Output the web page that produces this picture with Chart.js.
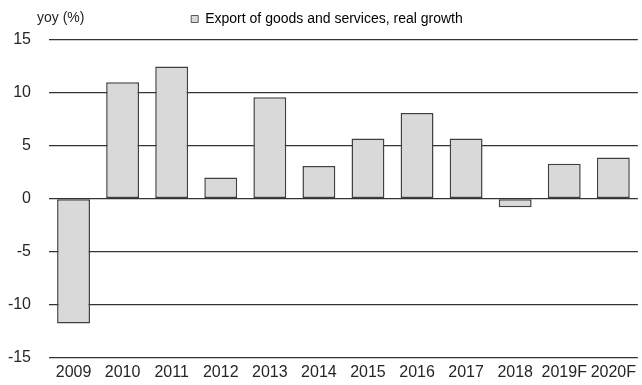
<!DOCTYPE html>
<html>
<head>
<meta charset="utf-8">
<script src="https://cdn.jsdelivr.net/npm/chart.js@4/dist/chart.umd.min.js"></script>
<style>
  html, body { margin: 0; padding: 0; background: #fff; overflow: hidden; }
  canvas { display: block; }
</style>
</head>
<body>
<canvas id="exportChart" width="642" height="385"></canvas>
<script>
// data
const years = ['2009', '2010', '2011', '2012', '2013', '2014', '2015', '2016', '2017', '2018', '2019F', '2020F'];
const exportGrowth = [-11.8, 11.0, 12.5, 2.0, 9.6, 3.1, 5.7, 8.1, 5.7, -0.8, 3.3, 3.9];
const yTicks = [-15, -10, -5, 0, 5, 10, 15];

Chart.defaults.font.family = '"Liberation Sans", Arial, sans-serif';
Chart.defaults.font.size = 13;
Chart.defaults.color = '#262626';

// "yoy (%)" label in the top-left corner + small legend tweaks
const unitLabel = {
  id: 'unitLabel',
  afterInit(chart) {
    const lg = chart.legend;
    const fit = lg.fit;
    lg.fit = function () {
      fit.call(this);
      this.height += 4; // more room under the legend, text stays put
    };
    const draw = lg.draw;
    lg.draw = function (area) {
      this.ctx.save();
      this.ctx.translate(6, 0); // legend sits a bit right of centre
      draw.call(this, area);
      this.ctx.restore();
    };
  },
  afterDraw(chart) {
    const c = chart.ctx;
    c.save();
    c.font = '14px "Liberation Sans", Arial, sans-serif';
    c.fillStyle = '#262626';
    c.textBaseline = 'middle';
    c.fillText('yoy (%)', 37, 18);
    c.restore();
  }
};

var ctx = document.getElementById('exportChart').getContext('2d');
var exportChart = new Chart(ctx, {
  type: 'bar',
  data: {
    labels: years,
    datasets: [{
      label: 'Export of goods and services, real growth',
      data: exportGrowth,
      backgroundColor: '#d9d9d9',
      borderColor: '#404040',
      borderWidth: 1.5,
      borderSkipped: false,
      barPercentage: 0.67,
      categoryPercentage: 1
    }]
  },
  options: {
    responsive: false,
    animation: false,
    layout: { padding: 0 },
    plugins: {
      legend: {
        position: 'top',
        labels: {
          boxWidth: 7,
          boxHeight: 7,
          padding: 12,
          color: '#262626',
          font: { size: 14 },
          generateLabels: function (chart) {
            const ds = chart.data.datasets[0];
            return [{
              text: ds.label,
              fillStyle: ds.backgroundColor,
              strokeStyle: '#595959',
              lineWidth: 1,
              datasetIndex: 0
            }];
          }
        }
      },
      tooltip: { enabled: false }
    },
    scales: {
      x: {
        grid: { display: false, drawTicks: false },
        border: { display: false },
        afterFit: function (axis) { axis.height = 21; },
        ticks: { color: '#262626', maxRotation: 0, autoSkip: false, padding: 6, font: { size: 16 } }
      },
      y: {
        min: -15,
        max: 15,
        afterBuildTicks: function (axis) {
          axis.ticks = yTicks.map(v => ({ value: v }));
        },
        afterFit: function (axis) { axis.width = 49; },
        grid: {
          color: '#333333',
          lineWidth: 1.3,
          drawTicks: false
        },
        border: { display: false },
        ticks: { color: '#262626', padding: 18, font: { size: 16 } }
      }
    }
  },
  plugins: [unitLabel]
});
</script>
</body>
</html>
